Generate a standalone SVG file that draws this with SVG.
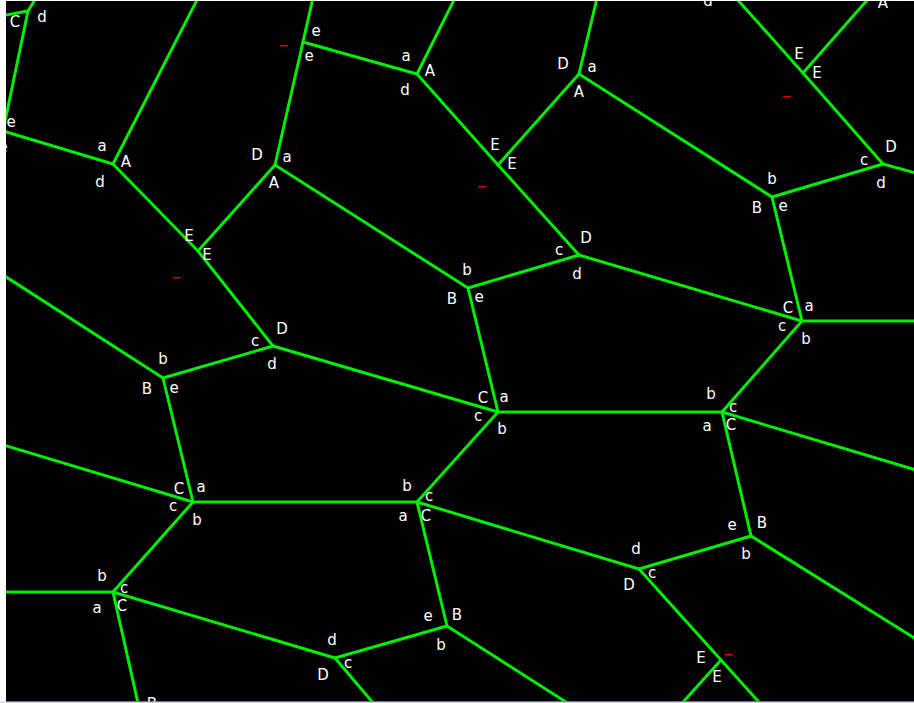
<svg xmlns="http://www.w3.org/2000/svg" width="914" height="703" viewBox="0 0 914 703">
<style>
.e{stroke:#00ee00;stroke-width:3;fill:none;stroke-linecap:round}
.t{font-family:"DejaVu Sans","Liberation Sans",sans-serif;font-size:15px;fill:#ffffff;text-anchor:middle}
.m{fill:#dd0000}
</style>
<defs>
<clipPath id="area"><rect x="6" y="1" width="908" height="700.5"/></clipPath>
</defs>
<rect x="0" y="0" width="914" height="703" fill="#ffffff"/>
<rect x="0" y="701.5" width="914" height="1.5" fill="#d4d2ea"/>
<rect x="6" y="1" width="908" height="700.5" fill="#000000"/>
<g clip-path="url(#area)">
<g id="edges">
<line class="e" x1="36" y1="-2" x2="28" y2="11"/>
<line class="e" x1="28" y1="11" x2="0" y2="16"/>
<line class="e" x1="28" y1="11" x2="3" y2="131"/>
<line class="e" x1="3" y1="131" x2="113" y2="164"/>
<line class="e" x1="113" y1="164" x2="198" y2="-2"/>
<line class="e" x1="113" y1="164" x2="198" y2="251"/>
<line class="e" x1="198" y1="251" x2="275" y2="165"/>
<line class="e" x1="198" y1="251" x2="273" y2="346"/>
<line class="e" x1="275" y1="165" x2="303" y2="42"/>
<line class="e" x1="303" y1="42" x2="313" y2="-2"/>
<line class="e" x1="303" y1="42" x2="417" y2="74"/>
<line class="e" x1="275" y1="165" x2="468" y2="288"/>
<line class="e" x1="417" y1="74" x2="455" y2="-2"/>
<line class="e" x1="417" y1="74" x2="498" y2="165"/>
<line class="e" x1="498" y1="165" x2="579" y2="74"/>
<line class="e" x1="498" y1="165" x2="579" y2="255"/>
<line class="e" x1="579" y1="74" x2="597" y2="-2"/>
<line class="e" x1="579" y1="74" x2="772" y2="197"/>
<line class="e" x1="803" y1="73" x2="736" y2="-2"/>
<line class="e" x1="803" y1="73" x2="869" y2="-2"/>
<line class="e" x1="803" y1="73" x2="883" y2="164"/>
<line class="e" x1="883" y1="164" x2="772" y2="197"/>
<line class="e" x1="883" y1="164" x2="916" y2="173"/>
<line class="e" x1="772" y1="197" x2="802" y2="321"/>
<line class="e" x1="802" y1="321" x2="916" y2="321"/>
<line class="e" x1="802" y1="321" x2="579" y2="255"/>
<line class="e" x1="802" y1="321" x2="722" y2="412"/>
<line class="e" x1="579" y1="255" x2="468" y2="288"/>
<line class="e" x1="468" y1="288" x2="498" y2="412"/>
<line class="e" x1="498" y1="412" x2="273" y2="346"/>
<line class="e" x1="498" y1="412" x2="722" y2="412"/>
<line class="e" x1="498" y1="412" x2="417" y2="502"/>
<line class="e" x1="273" y1="346" x2="163" y2="378"/>
<line class="e" x1="163" y1="378" x2="0" y2="273"/>
<line class="e" x1="163" y1="378" x2="193" y2="502"/>
<line class="e" x1="193" y1="502" x2="0" y2="444"/>
<line class="e" x1="193" y1="502" x2="417" y2="502"/>
<line class="e" x1="193" y1="502" x2="113" y2="592"/>
<line class="e" x1="113" y1="592" x2="0" y2="592"/>
<line class="e" x1="113" y1="592" x2="335" y2="658"/>
<line class="e" x1="113" y1="592" x2="140" y2="712"/>
<line class="e" x1="722" y1="412" x2="916" y2="470"/>
<line class="e" x1="722" y1="412" x2="751" y2="536"/>
<line class="e" x1="417" y1="502" x2="639" y2="569"/>
<line class="e" x1="417" y1="502" x2="447" y2="626"/>
<line class="e" x1="447" y1="626" x2="335" y2="658"/>
<line class="e" x1="447" y1="626" x2="580" y2="711"/>
<line class="e" x1="335" y1="658" x2="380" y2="711"/>
<line class="e" x1="639" y1="569" x2="751" y2="536"/>
<line class="e" x1="639" y1="569" x2="721" y2="660"/>
<line class="e" x1="751" y1="536" x2="916" y2="639"/>
<line class="e" x1="721" y1="660" x2="675" y2="711"/>
<line class="e" x1="721" y1="660" x2="767" y2="711"/>
</g>
<g id="marks">
<rect class="m" x="280" y="45" width="8" height="1.5"/>
<rect class="m" x="478" y="186" width="8" height="1.5"/>
<rect class="m" x="783" y="96" width="8" height="1.5"/>
<rect class="m" x="173" y="277" width="8" height="1.5"/>
<rect class="m" x="725" y="654" width="8" height="1.5"/>
</g>
<g id="v-top-left"><text class="t" x="15" y="27">C</text><text class="t" x="42" y="22">d</text></g>
<g id="v-left"><text class="t" x="11" y="127">e</text><text class="t" x="3" y="152">e</text></g>
<g id="v-A1"><text class="t" x="102" y="151">a</text><text class="t" x="126" y="167">A</text><text class="t" x="100" y="187">d</text></g>
<g id="v-E1"><text class="t" x="189" y="241">E</text><text class="t" x="207" y="260">E</text></g>
<g id="v-A2"><text class="t" x="257" y="160">D</text><text class="t" x="287" y="162">a</text><text class="t" x="274" y="188">A</text></g>
<g id="v-e1"><text class="t" x="316" y="36">e</text><text class="t" x="309" y="61">e</text></g>
<g id="v-A3"><text class="t" x="406" y="61">a</text><text class="t" x="430" y="76">A</text><text class="t" x="405" y="95">d</text></g>
<g id="v-E2"><text class="t" x="495" y="150">E</text><text class="t" x="512" y="169">E</text></g>
<g id="v-A4"><text class="t" x="563" y="69">D</text><text class="t" x="592" y="72">a</text><text class="t" x="579" y="97">A</text></g>
<g id="v-E3"><text class="t" x="799" y="59">E</text><text class="t" x="817" y="78">E</text></g>
<g id="v-top-right"><text class="t" x="708" y="6">d</text><text class="t" x="883" y="8">A</text></g>
<g id="v-D3"><text class="t" x="891" y="152">D</text><text class="t" x="864" y="165">c</text><text class="t" x="881" y="188">d</text></g>
<g id="v-B2"><text class="t" x="772" y="184">b</text><text class="t" x="757" y="213">B</text><text class="t" x="783" y="211">e</text></g>
<g id="v-D2"><text class="t" x="586" y="243">D</text><text class="t" x="559" y="255">c</text><text class="t" x="577" y="279">d</text></g>
<g id="v-B1"><text class="t" x="467" y="275">b</text><text class="t" x="452" y="304">B</text><text class="t" x="479" y="302">e</text></g>
<g id="v-C2"><text class="t" x="483" y="403">C</text><text class="t" x="504" y="402">a</text><text class="t" x="478" y="421">c</text><text class="t" x="502" y="434">b</text></g>
<g id="v-C3"><text class="t" x="788" y="313">C</text><text class="t" x="809" y="311">a</text><text class="t" x="782" y="331">c</text><text class="t" x="806" y="344">b</text></g>
<g id="v-C4"><text class="t" x="711" y="399">b</text><text class="t" x="733" y="412">c</text><text class="t" x="707" y="431">a</text><text class="t" x="731" y="430">C</text></g>
<g id="v-D1"><text class="t" x="282" y="334">D</text><text class="t" x="255" y="346">c</text><text class="t" x="272" y="369">d</text></g>
<g id="v-B0"><text class="t" x="163" y="364">b</text><text class="t" x="147" y="394">B</text><text class="t" x="174" y="393">e</text></g>
<g id="v-C1"><text class="t" x="179" y="494">C</text><text class="t" x="201" y="492">a</text><text class="t" x="173" y="511">c</text><text class="t" x="197" y="525">b</text></g>
<g id="v-C5"><text class="t" x="407" y="491">b</text><text class="t" x="429" y="501">c</text><text class="t" x="403" y="521">a</text><text class="t" x="426" y="521">C</text></g>
<g id="v-C0"><text class="t" x="102" y="581">b</text><text class="t" x="124" y="593">c</text><text class="t" x="97" y="613">a</text><text class="t" x="122" y="611">C</text></g>
<g id="v-B3"><text class="t" x="428" y="621">e</text><text class="t" x="457" y="620">B</text><text class="t" x="441" y="650">b</text></g>
<g id="v-D6"><text class="t" x="332" y="645">d</text><text class="t" x="323" y="680">D</text><text class="t" x="348" y="668">c</text></g>
<g id="v-B4"><text class="t" x="732" y="530">e</text><text class="t" x="762" y="528">B</text><text class="t" x="746" y="559">b</text></g>
<g id="v-D5"><text class="t" x="636" y="554">d</text><text class="t" x="629" y="590">D</text><text class="t" x="652" y="578">c</text></g>
<g id="v-E4"><text class="t" x="701" y="663">E</text><text class="t" x="717" y="682">E</text></g>
<g id="v-bottom"><text class="t" x="152" y="709">B</text></g>
</g>
</svg>
